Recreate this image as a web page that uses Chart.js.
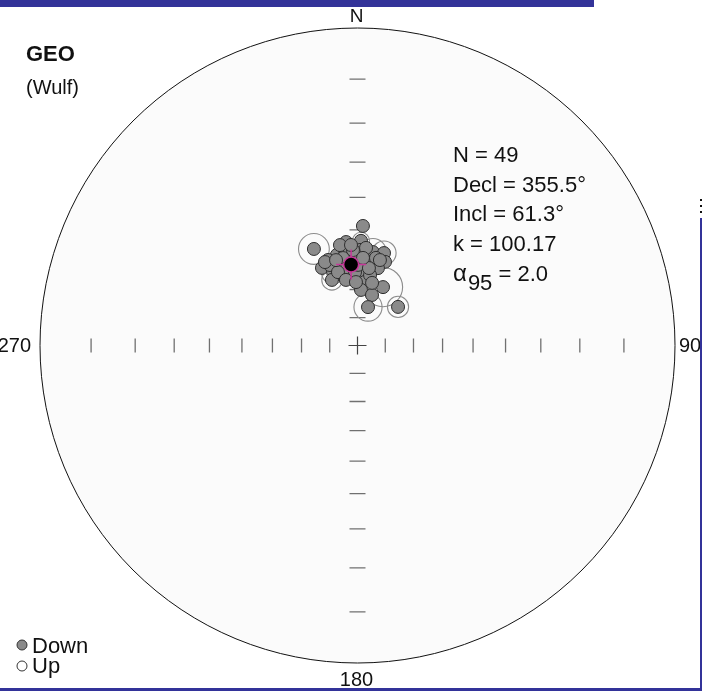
<!DOCTYPE html>
<html>
<head>
<meta charset="utf-8">
<title>GEO (Wulf)</title>
<script src="https://cdn.jsdelivr.net/npm/chart.js@4.4.0/dist/chart.umd.min.js"></script>
<style>
    html, body { margin: 0; padding: 0; background: #fff; overflow: hidden; }
    #wrap { width: 702px; height: 691px; }
</style>
</head>
<body>
<div id="wrap"><canvas id="stereoChart" width="702" height="691"></canvas></div>
<script>
// Directions (declination / inclination, degrees)
const declinations = [2.6, 335.7, 353.7, 1.9, 9.4, 16.0, 18.2, 10.9, 14.8, 347.2, 341.0, 335.4, 341.6, 347.6, 338.7, 353.8, 3.4, 6.7, 3.6, 23.6, 16.0, 15.3, 46.4, 359.7, 352.5, 345.7, 354.9, 350.6, 5.8, 1.5, 357.3, 350.1, 341.1, 352.3, 358.1, 10.1, 11.9, 5.0, 338.7, 345.1, 356.3, 0.4, 14.7, 8.4, 350.0, 345.9, 3.6, 13.1, 358.6];
const inclinations = [48.7, 53.1, 53.7, 53.5, 56.8, 56.3, 59.0, 59.3, 61.7, 57.4, 58.2, 59.9, 62.6, 64.4, 65.0, 65.5, 63.2, 67.2, 70.1, 67.3, 71.2, 75.7, 70.0, 58.9, 56.3, 60.7, 60.4, 58.8, 60.4, 56.5, 56.5, 54.4, 60.0, 62.3, 63.9, 64.6, 58.5, 55.7, 58.5, 63.1, 54.8, 61.5, 58.9, 62.3, 66.3, 59.0, 59.1, 67.1, 67.4];
// confidence cone per direction (degrees, 0 = none drawn)
const cones = [0, 5.0, 0, 2.8, 4.5, 4.0, 0, 0, 0, 0, 0, 0, 4.0, 0, 3.5, 0, 3.0, 0, 0, 6.8, 0, 5.0, 3.7, 0, 0, 0, 0, 0, 0, 0, 0, 0, 0, 0, 0, 0, 0, 0, 0, 0, 0, 0, 0, 0, 0, 0, 0, 0, 0];

const meanDec = [355.5];
const meanInc = [61.3];
const statLabels = ['N = 49', 'Decl = 355.5°', 'Incl = 61.3°', 'k = 100.17'];
const alpha95 = '2.0';
const netIncTicks = [10, 20, 30, 40, 50, 60, 70, 80];

const RAD = Math.PI / 180;

// Wulff (equal-angle) projection, unit radius
const project = (dec, inc) => {
    const rho = Math.tan((90 - Math.abs(inc)) / 2 * RAD);
    return { x: rho * Math.sin(dec * RAD), y: rho * Math.cos(dec * RAD) };
};

const points = declinations.map((d, i) => project(d, inclinations[i]));
const meanPts = meanDec.map((d, i) => project(d, meanInc[i]));

const FONT = "'Liberation Sans', Arial, Helvetica, sans-serif";

const netPlugin = {
    id: 'net',
    beforeDatasetsDraw(chart) {
        const { ctx } = chart;
        const sx = chart.scales.x, sy = chart.scales.y;
        const cx = sx.getPixelForValue(0), cy = sy.getPixelForValue(0);
        const R = sx.getPixelForValue(1) - cx;

        ctx.save();
        ctx.beginPath();
        ctx.arc(cx, cy, R, 0, Math.PI * 2);
        ctx.fillStyle = '#fbfbfb';
        ctx.fill();
        ctx.lineWidth = 1;
        ctx.strokeStyle = '#111';
        ctx.stroke();

        // inclination ticks along the axes
        ctx.strokeStyle = '#707070';
        ctx.lineWidth = 1.3;
        netIncTicks.forEach(inc => {
            const r = Math.tan((90 - inc) / 2 * RAD) * R;
            ctx.beginPath();
            [-1, 1].forEach(s => {
                ctx.moveTo(cx + s * r, cy - 7);
                ctx.lineTo(cx + s * r, cy + 7);
                ctx.moveTo(cx - 8, cy + s * r);
                ctx.lineTo(cx + 8, cy + s * r);
            });
            ctx.stroke();
        });

        ctx.strokeStyle = '#444';
        ctx.lineWidth = 1.2;
        ctx.beginPath();
        ctx.moveTo(cx - 9, cy);
        ctx.lineTo(cx + 9, cy);
        ctx.moveTo(cx, cy - 9);
        ctx.lineTo(cx, cy + 9);
        ctx.stroke();
        ctx.restore();
    },
    afterDraw(chart) {
        const { ctx } = chart;
        const sx = chart.scales.x, sy = chart.scales.y;
        const cx = sx.getPixelForValue(0), cy = sy.getPixelForValue(0);
        const R = sx.getPixelForValue(1) - cx;

        ctx.save();
        ctx.fillStyle = '#111';
        ctx.textBaseline = 'alphabetic';

        // compass labels
        ctx.font = '19px ' + FONT;
        ctx.textAlign = 'center';
        ctx.fillText('N', cx - 1, cy - R - 6);
        ctx.font = '20px ' + FONT;
        ctx.fillText('180', cx - 1, cy + R + 23);
        ctx.textAlign = 'right';
        ctx.textBaseline = 'middle';
        ctx.fillText('270', cx - R - 9, cy + 1);
        ctx.textAlign = 'left';
        ctx.fillText('90', cx + R + 4, cy + 1);

        // title
        ctx.textBaseline = 'alphabetic';
        ctx.font = 'bold 22px ' + FONT;
        ctx.fillText('GEO', 26, 61);
        ctx.font = '20px ' + FONT;
        ctx.fillText('(Wulf)', 26, 94);

        // statistics
        ctx.font = '22px ' + FONT;
        const x0 = 453;
        statLabels.forEach((t, i) => ctx.fillText(t, x0, 162 + i * 29.7));
        const yA = 162 + 4 * 29.7;
        ctx.font = '24px ' + FONT;
        ctx.fillText('α', x0, yA);
        const wA = ctx.measureText('α').width;
        ctx.font = '22px ' + FONT;
        ctx.fillText('95', x0 + wA + 1, yA + 9);
        const w95 = ctx.measureText('95').width;
        ctx.fillText(' = ' + alpha95, x0 + wA + w95 + 1, yA);

        // legend
        ctx.font = '22px ' + FONT;
        ctx.lineWidth = 1;
        ctx.strokeStyle = '#333';
        ctx.beginPath();
        ctx.arc(22, 645, 5, 0, Math.PI * 2);
        ctx.fillStyle = '#8a8a8a';
        ctx.fill();
        ctx.stroke();
        ctx.beginPath();
        ctx.arc(22, 666, 5, 0, Math.PI * 2);
        ctx.fillStyle = '#fff';
        ctx.fill();
        ctx.stroke();
        ctx.fillStyle = '#111';
        ctx.fillText('Down', 32, 653);
        ctx.fillText('Up', 32, 673);

        // frame of the page
        ctx.fillStyle = '#333399';
        ctx.fillRect(0, 0, 594, 7);
        ctx.fillRect(700, 218, 2, 473);
        ctx.fillRect(0, 688, 702, 3);
        ctx.fillStyle = '#111';
        ctx.fillRect(700, 199, 2, 2);
        ctx.fillRect(700, 205, 2, 2);
        ctx.fillRect(700, 211, 2, 2);
        ctx.restore();
    }
};

const coneRadius = (c) => {
    const i = c.dataIndex;
    const a = cones[i];
    if (!a || !c.chart.chartArea) return 0;
    const sx = c.chart.scales.x;
    const R = (sx.getPixelForValue(1) - sx.getPixelForValue(0));
    const p = points[i];
    const rho2 = p.x * p.x + p.y * p.y;
    return a * RAD * (1 + rho2) / 2 * R;
};

const ctx = document.getElementById('stereoChart').getContext('2d');
new Chart(ctx, {
    type: 'scatter',
    data: {
        datasets: [
            {
                label: 'Mean',
                data: meanPts,
                order: 0,
                pointRadius: 7.5,
                backgroundColor: '#000',
                borderColor: '#c8379a',
                borderWidth: 1.5
            },
            {
                label: 'a95',
                data: meanPts,
                order: 1,
                pointStyle: 'cross',
                pointRadius: 15,
                borderColor: '#c8379a',
                borderWidth: 1.5
            },
            {
                label: 'Down',
                data: points,
                order: 2,
                pointRadius: 6.5,
                backgroundColor: '#8a8a8a',
                borderColor: '#2e2e2e',
                borderWidth: 1
            },
            {
                label: 'cones',
                data: points,
                order: 3,
                pointRadius: coneRadius,
                backgroundColor: 'rgba(0,0,0,0)',
                borderColor: '#8c8c8c',
                borderWidth: 1.1
            }
        ]
    },
    options: {
        responsive: false,
        animation: false,
        devicePixelRatio: 1,
        layout: { padding: { left: 40, right: 27, top: 28, bottom: 28 } },
        scales: {
            x: { type: 'linear', min: -1, max: 1, display: false },
            y: { type: 'linear', min: -1, max: 1, display: false }
        },
        plugins: {
            legend: { display: false },
            tooltip: { enabled: false }
        },
        events: []
    },
    plugins: [netPlugin]
});
</script>
</body>
</html>
